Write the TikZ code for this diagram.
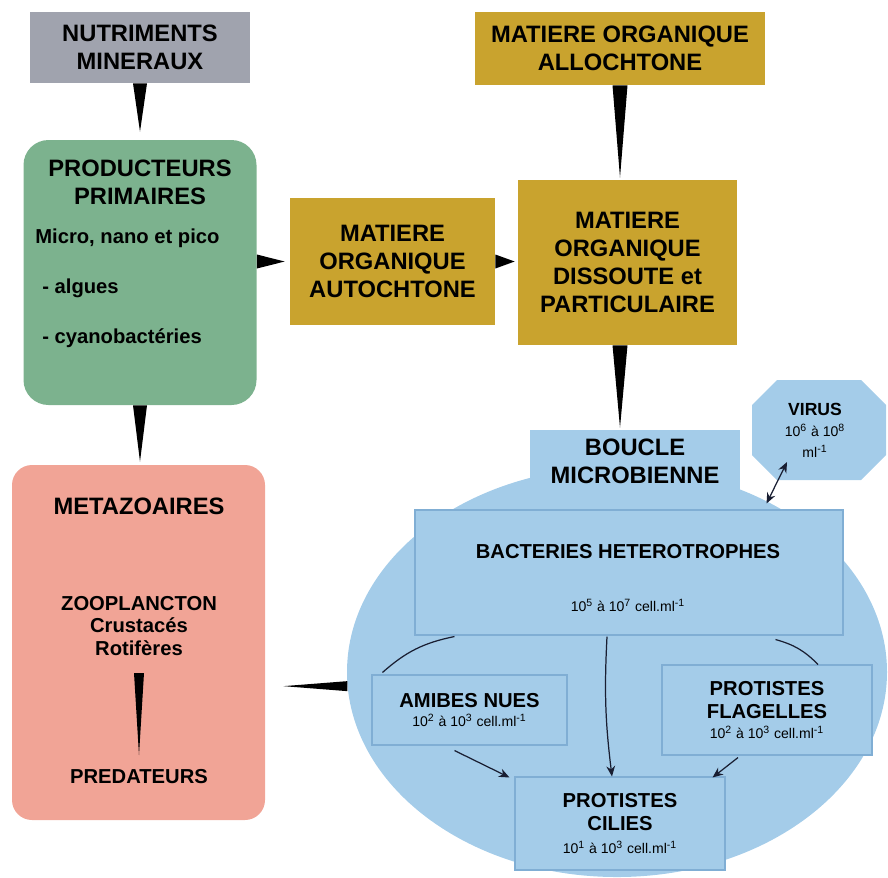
\documentclass[tikz,border=0pt]{standalone}
\usepackage{fontspec}
\setmainfont{Liberation Sans}
\usetikzlibrary{calc,shapes.geometric,arrows.meta}
\definecolor{grisbox}{RGB}{160,163,174}
\definecolor{orbox}{RGB}{201,163,46}
\definecolor{vertbox}{RGB}{124,178,142}
\definecolor{rosebox}{RGB}{241,164,150}
\definecolor{bleubox}{RGB}{164,204,233}
\definecolor{bleutrait}{RGB}{128,174,212}
\definecolor{encre}{RGB}{25,30,50}
\def\titre{\fontsize{13.5}{16}\selectfont\bfseries}
\def\moyen{\fontsize{11.5}{13}\selectfont\bfseries}
\def\petit{\fontsize{8}{10}\selectfont\mdseries}
\def\dens#1#2{10\textsuperscript{#1} à 10\textsuperscript{#2} cell.ml\textsuperscript{-1}}
\newcommand\wedgeline[3]{\fill ($(#1)!#3!90:(#2)$) -- ($(#1)!#3!-90:(#2)$) -- (#2) -- cycle;}
\tikzset{
  boite/.style={align=center, inner sep=0pt, font=\titre},
  texte/.style={align=center, inner sep=0pt, font=\moyen},
  petitxt/.style={inner sep=0pt, font=\petit},
  bulle/.style={fill=bleubox, draw=bleutrait, line width=0.6pt, align=center, inner sep=0pt, font=\moyen},
  fleche/.style={-{Stealth[length=6pt,width=5pt]}, line width=0.7pt, draw=encre},
  doublefleche/.style={{Stealth[length=6pt,width=5pt]}-{Stealth[length=6pt,width=5pt]}, line width=0.7pt, draw=encre},
  trait/.style={line width=0.7pt, draw=encre}
}
\begin{document}
\begin{tikzpicture}
\useasboundingbox (0,0) rectangle (17.76,-17.54);
% apports
\node[boite, fill=grisbox, minimum width=4.4cm, minimum height=1.42cm] (nutr) at (2.8,-0.95) {NUTRIMENTS\\MINERAUX};
\node[boite, fill=orbox, minimum width=5.8cm, minimum height=1.46cm] (allo) at (12.4,-0.97) {MATIERE ORGANIQUE\\ALLOCHTONE};
% producteurs primaires
\node[fill=vertbox, rounded corners=0.5cm, minimum width=4.66cm, minimum height=5.3cm] (prod) at (2.8,-5.45) {};
\node[boite] (prodt) at (2.8,-3.65) {PRODUCTEURS\\PRIMAIRES};
\node[texte, anchor=west] (micro) at (0.7,-4.76) {Micro, nano et pico};
\node[texte, anchor=west] (alg) at (0.84,-5.76) {- algues};
\node[texte, anchor=west] (cyan) at (0.84,-6.76) {- cyanobactéries};
\node[boite, fill=orbox, minimum width=4.1cm, minimum height=2.54cm] (auto) at (7.85,-5.23) {MATIERE\\ORGANIQUE\\AUTOCHTONE};
\node[boite, fill=orbox, minimum width=4.38cm, minimum height=3.3cm] (diss) at (12.55,-5.25) {MATIERE\\ORGANIQUE\\DISSOUTE et\\PARTICULAIRE};
% metazoaires
\node[fill=rosebox, rounded corners=0.4cm, minimum width=5.06cm, minimum height=7.1cm] (meta) at (2.77,-12.85) {};
\node[boite] (metat) at (2.78,-10.12) {METAZOAIRES};
\node[texte] (zoo) at (2.78,-12.52) {ZOOPLANCTON\\Crustacés\\Rotifères};
\node[texte] (pred) at (2.78,-15.54) {PREDATEURS};
% boucle microbienne
\node[ellipse, fill=bleubox, minimum width=10.8cm, minimum height=8.2cm, inner sep=0pt] (loop) at (12.34,-13.44) {};
\node[boite, fill=bleubox, minimum width=4.2cm, minimum height=1.24cm] (boucle) at (12.7,-9.22) {BOUCLE\\MICROBIENNE};
\coordinate (vc) at (16.38,-8.6);
\fill[bleubox] ($(vc)+(-1.34,0.5)$) -- ($(vc)+(-0.84,1)$) -- ($(vc)+(0.84,1)$) -- ($(vc)+(1.34,0.5)$)
  -- ($(vc)+(1.34,-0.5)$) -- ($(vc)+(0.84,-1)$) -- ($(vc)+(-0.84,-1)$) -- ($(vc)+(-1.34,-0.5)$) -- cycle;
\node[align=center, inner sep=0pt] (virus) at ($(vc)+(-0.08,0)$) {{\fontsize{10}{11.5}\selectfont\bfseries VIRUS}\\{\petit 10\textsuperscript{6} à 10\textsuperscript{8}}\\{\petit ml\textsuperscript{-1}}};
\node[bulle, minimum width=8.56cm, minimum height=2.5cm] (bact) at (12.58,-11.45) {};
\node[texte] (bactt) at (12.56,-11.04) {BACTERIES HETEROTROPHES};
\node[petitxt] (bactn) at (12.56,-12.1) {\dens{5}{7}};
\node[bulle, minimum width=3.9cm, minimum height=1.4cm] (amib) at (9.39,-14.2) {AMIBES NUES\\[-2pt]{\petit\dens{2}{3}}};
\node[bulle, minimum width=4.2cm, minimum height=1.8cm] (flag) at (15.34,-14.2) {PROTISTES\\FLAGELLES\\[-2pt]{\petit\dens{2}{3}}};
\node[bulle, minimum width=4.2cm, minimum height=1.86cm] (cil) at (12.4,-16.47) {PROTISTES\\CILIES\\{\petit\dens{1}{3}}};
% fleches pleines
\coordinate (a1) at ($(prod.north)+(0,0.16)$);
\wedgeline{nutr.south}{a1}{0.14cm}
\coordinate (a2) at ($(meta.north -| prod.south)+(0,0.06)$);
\wedgeline{prod.south}{a2}{0.14cm}
\coordinate (b3) at (prod.east |- auto.west);
\coordinate (a3) at ($(auto.west)+(-0.1,0)$);
\wedgeline{b3}{a3}{0.14cm}
\coordinate (a4) at ($(diss.west |- auto.east)+(-0.06,0)$);
\wedgeline{auto.east}{a4}{0.14cm}
\coordinate (a5) at ($(allo.south |- diss.north)+(0,0.04)$);
\wedgeline{allo.south}{a5}{0.15cm}
\coordinate (b6) at (allo.south |- diss.south);
\coordinate (a6) at ($(allo.south |- boucle.north)+(0,0.04)$);
\wedgeline{b6}{a6}{0.15cm}
\coordinate (b7) at (loop.183);
\coordinate (a7) at ($(meta.east |- b7)+(0.36,0)$);
\wedgeline{b7}{a7}{0.1cm}
\coordinate (b8) at ($(zoo.center)+(0,-0.94)$);
\coordinate (a8) at ($(pred.center)+(0,0.44)$);
\wedgeline{b8}{a8}{0.1cm}
% fleches fines
\draw[doublefleche] ($(bact.north east)+(-1.54,0.12)$) -- ($(vc)+(-0.64,-0.64)$);
\draw[trait] ($(bact.south west)+(0.8,-0.02)$) to[bend right=15] ($(amib.north west)+(0.22,0.04)$);
\draw[trait] ($(bact.south east)+(-1.36,-0.08)$) to[bend left=15] ($(flag.north)+(1.02,0)$);
\draw[fleche] ($(bact.south)+(-0.44,-0.02)$) to[bend right=5] ($(cil.north)+(-0.16,0)$);
\draw[fleche] ($(amib.south)+(-0.3,-0.1)$) -- ($(cil.north west)+(-0.1,-0.02)$);
\draw[fleche] ($(flag.south)+(-0.58,-0.04)$) -- ($(cil.north east)+(-0.26,-0.02)$);
\end{tikzpicture}
\end{document}
